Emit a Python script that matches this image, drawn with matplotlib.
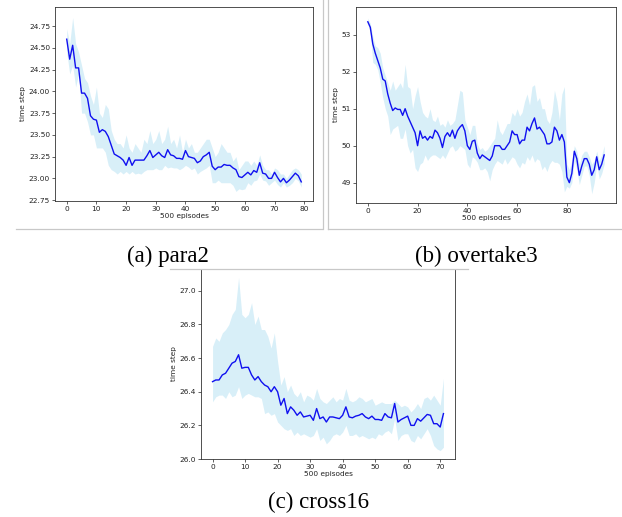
import numpy as np
import matplotlib
matplotlib.use("Agg")
import matplotlib.pyplot as plt
from matplotlib.lines import Line2D
from matplotlib.ticker import MultipleLocator

# ---------------- data ----------------
para2_mean = [24.60, 24.37, 24.53, 24.27, 24.27, 23.98, 23.98, 23.92, 23.72, 23.68,
              23.67, 23.53, 23.56, 23.54, 23.48, 23.38, 23.28, 23.26, 23.24, 23.21,
              23.15, 23.24, 23.15, 23.21, 23.21, 23.21, 23.21, 23.26, 23.32, 23.24,
              23.27, 23.30, 23.26, 23.24, 23.33, 23.27, 23.26, 23.23, 23.23, 23.22,
              23.32, 23.25, 23.24, 23.23, 23.18, 23.20, 23.25, 23.27, 23.30, 23.14,
              23.10, 23.13, 23.13, 23.16, 23.15, 23.15, 23.12, 23.10, 23.02, 23.01,
              23.04, 23.07, 23.04, 23.09, 23.07, 23.18, 23.06, 23.05, 23.00, 23.00,
              23.07, 23.01, 22.96, 23.00, 22.95, 22.98, 23.02, 23.06, 23.03, 22.96]
para2_upper = [24.72, 24.55, 24.85, 24.55, 24.45, 24.30, 24.15, 24.10, 23.95, 23.85,
               24.05, 23.75, 23.70, 23.85, 23.80, 23.55, 23.45, 23.40, 23.40, 23.35,
               23.50, 23.35, 23.30, 23.40, 23.35, 23.30, 23.45, 23.40, 23.55, 23.40,
               23.45, 23.55, 23.40, 23.45, 23.60, 23.40, 23.45, 23.35, 23.50, 23.30,
               23.45, 23.35, 23.40, 23.30, 23.30, 23.35, 23.40, 23.45, 23.45, 23.35,
               23.25, 23.30, 23.40, 23.35, 23.30, 23.30, 23.20, 23.25, 23.10, 23.15,
               23.20, 23.20, 23.15, 23.20, 23.15, 23.27, 23.15, 23.10, 23.10, 23.05,
               23.12, 23.10, 23.05, 23.05, 23.00, 23.05, 23.10, 23.12, 23.10, 23.05]
para2_lower = [24.45, 24.20, 24.30, 24.05, 24.20, 23.75, 23.75, 23.65, 23.50, 23.50,
               23.35, 23.35, 23.35, 23.30, 23.15, 23.10, 23.08, 23.05, 23.08, 23.05,
               23.08, 23.05, 23.08, 23.05, 23.06, 23.05, 23.08, 23.10, 23.10, 23.10,
               23.12, 23.10, 23.10, 23.15, 23.12, 23.13, 23.12, 23.12, 23.10, 23.12,
               23.15, 23.13, 23.10, 23.12, 23.05, 23.08, 23.10, 23.12, 23.15, 22.95,
               22.95, 22.98, 22.95, 22.95, 22.95, 22.95, 22.92, 22.85, 22.88, 22.87,
               22.88, 22.95, 22.92, 22.97, 22.98, 23.05, 22.98, 22.97, 22.92, 22.95,
               22.98, 22.93, 22.90, 22.95, 22.90, 22.92, 22.95, 23.00, 22.97, 22.90]

overtake3_mean = [53.35, 53.20, 52.75, 52.50, 52.30, 52.10, 51.80, 51.75, 51.40, 51.15,
                  50.95, 51.02, 50.98, 50.98, 50.82, 51.00, 50.80, 50.65, 50.50, 50.35,
                  50.00, 50.40, 50.20, 50.25, 50.15, 50.25, 50.20, 50.42, 50.35, 50.20,
                  49.95, 50.25, 50.35, 50.25, 50.42, 50.20, 50.40, 50.50, 50.57, 50.40,
                  50.00, 49.90, 50.12, 50.15, 49.80, 49.65, 49.75, 49.70, 49.65, 49.60,
                  49.72, 50.00, 50.00, 50.00, 49.90, 49.90, 50.00, 50.10, 50.40, 50.30,
                  50.30, 50.05, 50.15, 50.15, 50.50, 50.40, 50.60, 50.75, 50.45, 50.50,
                  50.40, 50.30, 50.05, 50.05, 50.10, 50.50, 50.40, 50.15, 50.30, 50.10,
                  49.15, 49.00, 49.25, 49.85, 49.65, 49.20, 49.45, 49.65, 49.65, 49.50,
                  49.20, 49.35, 49.70, 49.35, 49.50, 49.75]
overtake3_upper = [53.45, 53.30, 52.95, 52.70, 52.65, 52.50, 52.10, 51.90, 51.70, 51.50,
                   51.75, 51.50, 51.60, 51.70, 51.55, 52.20, 51.60, 51.55, 51.00, 51.35,
                   51.60, 51.20, 50.90, 50.80, 50.75, 51.00, 50.70, 50.65, 50.80, 50.55,
                   50.60, 50.50, 50.70, 50.55, 50.60, 50.70, 51.10, 51.50, 51.45, 50.70,
                   50.50, 50.30, 50.55, 50.55, 50.05, 49.90, 49.95, 49.85, 49.90, 50.00,
                   50.10, 50.20, 50.70, 50.40, 50.30, 50.45, 50.60, 50.60, 50.90, 50.80,
                   51.00, 50.80, 50.90, 51.20, 51.40, 51.10, 51.60, 51.65, 51.20, 51.30,
                   51.00, 51.00, 50.70, 50.60, 50.90, 51.50, 51.20, 50.70, 51.40, 51.60,
                   49.50, 49.35, 49.60, 50.00, 49.85, 49.50, 49.75, 49.85, 49.85, 49.70,
                   49.50, 49.60, 49.85, 49.60, 49.75, 50.00]
overtake3_lower = [53.30, 53.05, 52.25, 52.20, 52.05, 51.70, 51.30, 51.00, 50.80, 50.30,
                   50.45, 50.50, 50.55, 50.20, 50.20, 50.45, 50.00, 49.80, 49.90, 49.40,
                   49.30, 49.50, 49.55, 49.75, 49.60, 49.70, 49.75, 49.75, 49.70, 49.65,
                   49.75, 49.65, 49.80, 49.95, 50.00, 49.85, 49.90, 50.00, 49.95, 49.90,
                   49.50, 49.40, 49.70, 49.65, 49.55, 49.35, 49.35, 49.40, 49.30, 49.05,
                   49.35, 49.50, 49.60, 49.55, 49.50, 49.65, 49.50, 49.60, 49.70, 49.65,
                   49.50, 49.40, 49.55, 49.50, 49.70, 49.60, 49.75, 49.55, 49.65, 49.60,
                   49.35, 49.45, 49.30, 49.50, 49.60, 49.55, 49.55, 49.50, 49.30, 48.75,
                   48.90, 48.85, 49.00, 49.60, 49.35, 48.95, 49.20, 49.45, 49.45, 49.20,
                   48.70, 49.00, 49.50, 49.10, 49.25, 49.50]

cross16_mean = [26.46, 26.47, 26.47, 26.50, 26.51, 26.54, 26.57, 26.58, 26.62, 26.54,
                26.545, 26.545, 26.50, 26.47, 26.49, 26.46, 26.44, 26.43, 26.40, 26.43,
                26.40, 26.32, 26.36, 26.27, 26.31, 26.29, 26.26, 26.28, 26.25, 26.255,
                26.26, 26.23, 26.30, 26.24, 26.25, 26.22, 26.25, 26.25, 26.245, 26.24,
                26.26, 26.31, 26.25, 26.245, 26.255, 26.26, 26.27, 26.25, 26.24, 26.255,
                26.235, 26.235, 26.23, 26.27, 26.25, 26.245, 26.33, 26.22, 26.235, 26.245,
                26.255, 26.20, 26.20, 26.24, 26.225, 26.245, 26.265, 26.26, 26.21, 26.21,
                26.19, 26.27]
cross16_upper = [26.67, 26.72, 26.70, 26.75, 26.77, 26.80, 26.86, 26.89, 27.08, 26.86,
                 26.84, 26.86, 26.93, 26.80, 26.85, 26.77, 26.77, 26.73, 26.66, 26.75,
                 26.58, 26.44, 26.49, 26.40, 26.44, 26.39, 26.37, 26.40, 26.34, 26.38,
                 26.37, 26.35, 26.42, 26.36, 26.34, 26.33, 26.35, 26.37, 26.34, 26.36,
                 26.35, 26.42, 26.35, 26.34, 26.35, 26.37, 26.36, 26.34, 26.35, 26.36,
                 26.32, 26.33, 26.34, 26.33, 26.33, 26.33, 26.35, 26.33, 26.31, 26.32,
                 26.31, 26.28, 26.30, 26.33, 26.30, 26.36, 26.37, 26.35, 26.38, 26.35,
                 26.32, 26.48]
cross16_lower = [26.34, 26.37, 26.38, 26.38, 26.36, 26.40, 26.37, 26.38, 26.43, 26.36,
                 26.38, 26.39, 26.38, 26.37, 26.37, 26.36, 26.27, 26.28, 26.26, 26.27,
                 26.22, 26.20, 26.18, 26.17, 26.18, 26.14, 26.16, 26.14, 26.15, 26.14,
                 26.13, 26.14, 26.18, 26.11, 26.13, 26.09, 26.11, 26.14, 26.15, 26.14,
                 26.16, 26.20, 26.14, 26.14, 26.15, 26.13, 26.14, 26.13, 26.12, 26.13,
                 26.12, 26.15, 26.14, 26.16, 26.17, 26.15, 26.24, 26.11, 26.14, 26.15,
                 26.15, 26.11, 26.10, 26.14, 26.12, 26.15, 26.18, 26.14, 26.08, 26.06,
                 26.05, 26.07]

captions = ["(a) para2", "(b) overtake3", "(c) cross16"]
xlabel = "500 episodes"
ylabel = "time step"

# ---------------- figure ----------------
W, H = 622, 517
fig = plt.figure(figsize=(W / 100, H / 100), dpi=100)
fig.patch.set_facecolor("white")

def px_axes(left, top, right, bottom):
    return fig.add_axes([left / W, 1 - bottom / H, (right - left) / W, (bottom - top) / H])

FS = 5.3
def style(ax):
    for s in ax.spines.values():
        s.set_linewidth(0.6)
        s.set_color("#333333")
    ax.tick_params(labelsize=FS, length=2.0, width=0.5, pad=1.5, colors="#222222")
    ax.set_xlabel(xlabel, fontsize=FS, labelpad=1.0, color="#222222")
    ax.set_ylabel(ylabel, fontsize=FS, labelpad=2.0, color="#222222")

def draw(ax, mean, lo, hi):
    x = np.arange(len(mean))
    ax.fill_between(x, lo, hi, color="skyblue", alpha=0.32, linewidth=0)
    ax.plot(x, mean, color="#1010f0", linewidth=1.0)

ax1 = px_axes(55, 7, 313, 201)
draw(ax1, para2_mean, para2_lower, para2_upper)
ax1.xaxis.set_major_locator(MultipleLocator(10))
ax1.yaxis.set_major_locator(MultipleLocator(0.25))
ax1.set_ylim(22.74, 24.97)
ax1.yaxis.set_major_formatter(matplotlib.ticker.FormatStrFormatter("%.2f"))
style(ax1)

ax2 = px_axes(356, 7, 616, 203)
draw(ax2, overtake3_mean, overtake3_lower, overtake3_upper)
ax2.xaxis.set_major_locator(MultipleLocator(20))
ax2.yaxis.set_major_locator(MultipleLocator(1))
ax2.set_ylim(48.45, 53.75)
style(ax2)

ax3 = px_axes(201, 269, 455, 459)
draw(ax3, cross16_mean, cross16_lower, cross16_upper)
ax3.xaxis.set_major_locator(MultipleLocator(10))
ax3.yaxis.set_major_locator(MultipleLocator(0.2))
ax3.set_ylim(26.0, 27.13)
ax3.yaxis.set_major_formatter(matplotlib.ticker.FormatStrFormatter("%.1f"))
style(ax3)

# captions
cap_kw = dict(fontsize=16.5, family=["Liberation Serif", "DejaVu Serif"],
              ha="center", va="center", color="black")
fig.text(168 / W, 1 - 256 / H, captions[0], **cap_kw)
fig.text(476 / W, 1 - 256 / H, captions[1], **cap_kw)
fig.text(319 / W, 1 - 502 / H, captions[2], **cap_kw)

# faint image borders of the sub-figures
def hline(y, x0, x1):
    fig.add_artist(Line2D([x0 / W, x1 / W], [1 - y / H, 1 - y / H], color="#c8c8c8", lw=0.9))
def vline(x, y0, y1):
    fig.add_artist(Line2D([x / W, x / W], [1 - y0 / H, 1 - y1 / H], color="#c8c8c8", lw=0.9))

hline(228.5, 16, 322)
vline(322.5, 0, 228.5)
vline(327.5, 0, 228.5)
hline(228.5, 327.5, 622)
hline(268.5, 170, 468)

fig.savefig("out.png", dpi=100, facecolor="white")
